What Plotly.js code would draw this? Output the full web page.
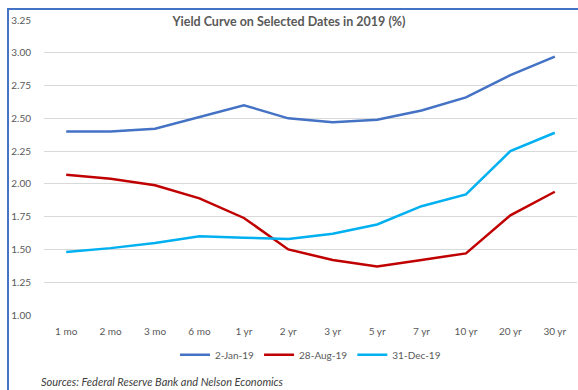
<!DOCTYPE html>
<html>
<head>
<meta charset="utf-8">
<script src="https://cdn.plot.ly/plotly-3.0.1.min.js"></script>
<style>
  html, body { margin: 0; padding: 0; background: #fff; }
  #wrap { position: absolute; left: 0; top: 0; width: 578px; height: 390px; overflow: hidden; }
  #frame { position: absolute; left: 7px; top: 8px; width: 600px; height: 400px;
           border-left: 2px solid #4472C4; border-top: 2px solid #4472C4; }
  #chart { position: absolute; left: 0; top: 0; width: 578px; height: 390px; }
</style>
</head>
<body>
<div id="wrap">
  <div id="frame"></div>
  <div id="chart"></div>
</div>
<script>
const maturities = ["1 mo","2 mo","3 mo","6 mo","1 yr","2 yr","3 yr","5 yr","7 yr","10 yr","20 yr","30 yr"];
const jan2 = [2.40, 2.40, 2.42, 2.51, 2.60, 2.50, 2.47, 2.49, 2.56, 2.66, 2.83, 2.97];
const aug28 = [2.07, 2.04, 1.99, 1.89, 1.74, 1.50, 1.42, 1.37, 1.42, 1.47, 1.76, 1.94];
const dec31 = [1.48, 1.51, 1.55, 1.60, 1.59, 1.58, 1.62, 1.69, 1.83, 1.92, 2.25, 2.39];
const seriesNames = ["2-Jan-19", "28-Aug-19", "31-Dec-19"];
const yTicks = [1.00, 1.25, 1.50, 1.75, 2.00, 2.25, 2.50, 2.75, 3.00, 3.25];

const font = "Lato, 'Open Sans', sans-serif";
const colors = ["#4472C4", "#C00000", "#00B0F0"];
const data = [jan2, aug28, dec31].map((ys, i) => ({
  type: "scatter", mode: "lines", x: maturities, y: ys, name: seriesNames[i],
  line: { color: colors[i], width: 2.5 }
}));

const layout = {
  width: 578, height: 390,
  margin: { l: 44, r: 1, t: 20, b: 75 },
  paper_bgcolor: "rgba(0,0,0,0)", plot_bgcolor: "rgba(0,0,0,0)",
  showlegend: true,
  legend: { orientation: "h", x: 0.5, xanchor: "center", xref: "paper", y: -0.135, yanchor: "middle",
            font: { family: font, size: 10, color: "#595959" }, itemwidth: 30, tracegroupgap: 0 },
  title: { text: "<b>Yield Curve on Selected Dates in 2019 (%)</b>", x: 289 / 578, xref: "container", xanchor: "center",
           y: 1 - 22 / 390, yref: "container", yanchor: "middle",
           font: { family: font, size: 12.5, color: "#595959" } },
  xaxis: { type: "category", range: [-0.5, maturities.length - 0.5], showgrid: false, zeroline: false, showline: false, ticks: "",
           tickfont: { family: font, size: 10, color: "#595959" }, ticklabelstandoff: 9, fixedrange: true },
  yaxis: { range: [1, 3.25], tickvals: yTicks, ticktext: yTicks.map(v => v.toFixed(2)),
           showgrid: true, gridcolor: "#D9D9D9", gridwidth: 1, zeroline: false, showline: false, ticks: "",
           tickfont: { family: font, size: 10, color: "#595959" }, ticklabelstandoff: 12, fixedrange: true },
  annotations: [{
    text: "<i>Sources: Federal Reserve Bank and Nelson Economics</i>", xref: "paper", yref: "paper",
    x: -0.01, y: -0.227, xanchor: "left", yanchor: "middle", showarrow: false,
    font: { family: font, size: 11, color: "#404040" }
  }]
};

Plotly.newPlot("chart", data, layout, { staticPlot: true, displayModeBar: false });
</script>
</body>
</html>
